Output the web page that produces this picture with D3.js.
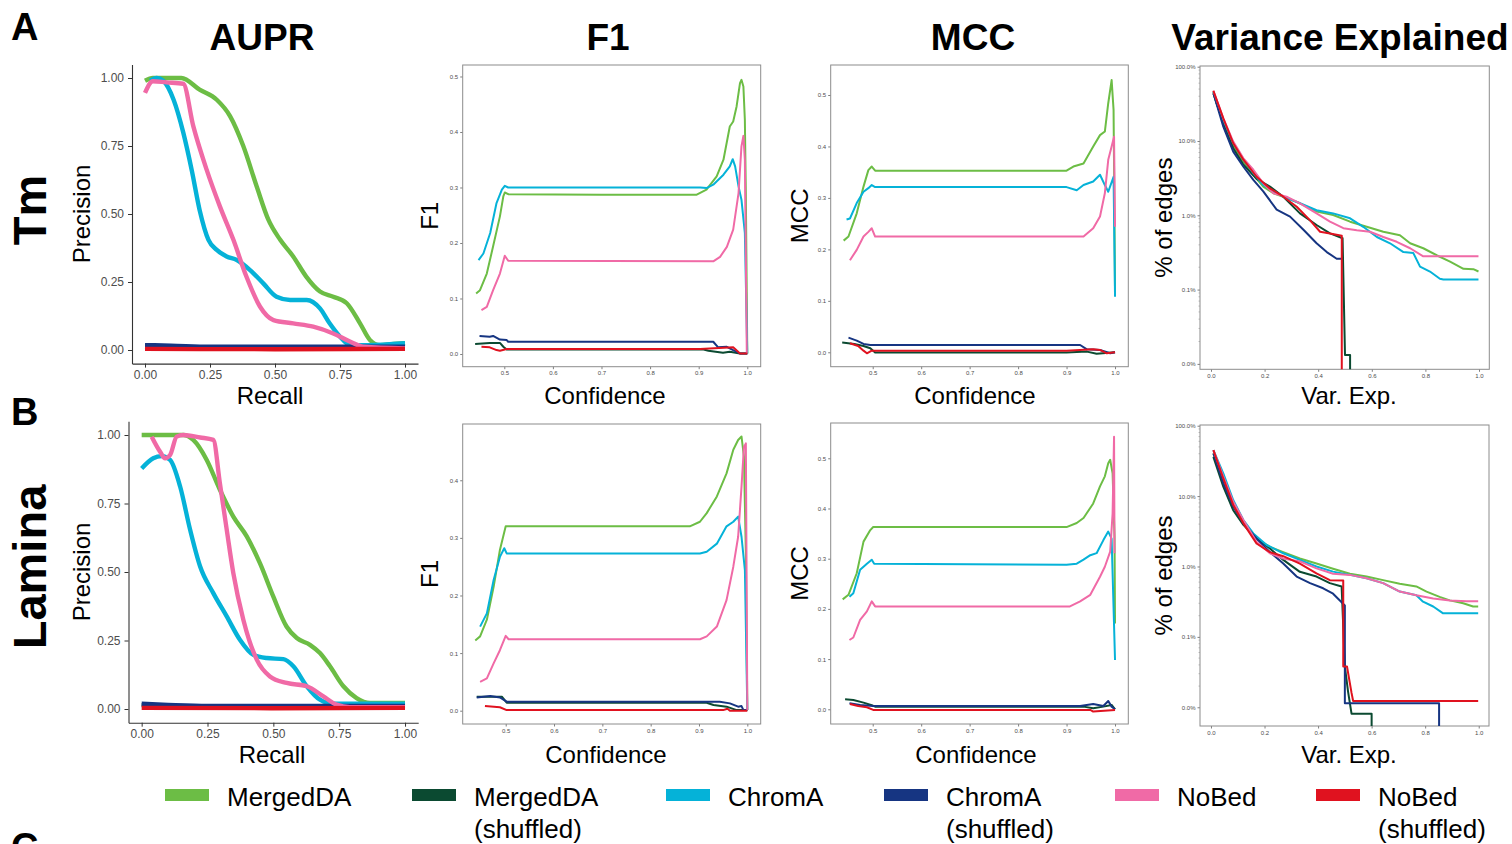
<!DOCTYPE html>
<html>
<head>
<meta charset="utf-8">
<script src="https://cdn.jsdelivr.net/npm/d3@7"></script>
<style>
  body { margin: 0; background: #fff; }
  text { font-family: "Liberation Sans", Arial, sans-serif; }
</style>
</head>
<body>
<script>
const width = 1512;
const height = 844;

// series order = legend order = draw order
const seriesNames = ["MergedDA", "MergedDA\n(shuffled)", "ChromA", "ChromA\n(shuffled)", "NoBed", "NoBed\n(shuffled)"];
const seriesKeys = ["mergedDA", "mergedDAShuf", "chromA", "chromAShuf", "noBed", "noBedShuf"];
const seriesColors = ["#6cbd45", "#0b4a31", "#05b2d8", "#163582", "#f06aa6", "#e0121f"];

const columnTitles = ["AUPR", "F1", "MCC", "Variance Explained"];
const rowNames = ["Tm", "Lamina"];
const panelLetters = ["A", "B", "C"];

const auprTicks = [0, 0.25, 0.5, 0.75, 1];
const confTicks = [0.5, 0.6, 0.7, 0.8, 0.9, 1.0];
const f1TicksTm = [0, 0.1, 0.2, 0.3, 0.4, 0.5];
const f1TicksLamina = [0, 0.1, 0.2, 0.3, 0.4];
const mccTicks = [0, 0.1, 0.2, 0.3, 0.4, 0.5];
const varXTicks = [0, 0.2, 0.4, 0.6, 0.8, 1.0];
const varYTicks = [100, 10, 1, 0.1, 0.01];

// ---- AUPR (recall, precision) ----
const auprTm = {
  mergedDA: [[0,0.99],[0.03,1.0],[0.14,1.0],[0.21,0.957],[0.276,0.92],[0.327,0.86],[0.378,0.75],[0.43,0.60],[0.474,0.48],[0.52,0.405],[0.57,0.344],[0.62,0.27],[0.673,0.215],[0.724,0.196],[0.776,0.172],[0.827,0.098],[0.865,0.037],[0.904,0.018],[0.955,0.022],[1,0.025]],
  mergedDAShuf: [[0,0.012],[0.2,0.01],[0.5,0.01],[1,0.011]],
  chromA: [[0.02,0.99],[0.045,1.0],[0.07,0.99],[0.11,0.92],[0.147,0.80],[0.18,0.66],[0.21,0.515],[0.244,0.405],[0.276,0.368],[0.314,0.344],[0.353,0.331],[0.404,0.294],[0.455,0.245],[0.506,0.196],[0.558,0.184],[0.622,0.184],[0.673,0.153],[0.71,0.098],[0.75,0.049],[0.788,0.018],[0.853,0.018],[1,0.025]],
  chromAShuf: [[0,0.018],[0.1,0.016],[0.25,0.012],[0.5,0.012],[1,0.012]],
  noBed: [[0,0.945],[0.03,0.988],[0.083,0.984],[0.147,0.979],[0.186,0.822],[0.237,0.663],[0.288,0.528],[0.34,0.405],[0.39,0.27],[0.442,0.16],[0.494,0.11],[0.57,0.098],[0.647,0.086],[0.724,0.061],[0.788,0.031],[0.84,0.012],[1,0.006]],
  noBedShuf: [[0,0.004],[0.5,0.003],[1,0.004]]
};
const auprLamina = {
  mergedDA: [[0,1.0],[0.158,1.0],[0.196,0.982],[0.247,0.909],[0.297,0.80],[0.348,0.702],[0.399,0.63],[0.449,0.532],[0.5,0.41],[0.55,0.301],[0.589,0.259],[0.639,0.234],[0.677,0.204],[0.715,0.156],[0.766,0.083],[0.816,0.04],[0.867,0.022],[1,0.022]],
  mergedDAShuf: [[0,0.014],[0.2,0.01],[0.5,0.009],[1,0.01]],
  chromA: [[0,0.878],[0.044,0.915],[0.076,0.923],[0.108,0.909],[0.146,0.812],[0.184,0.654],[0.222,0.52],[0.272,0.423],[0.323,0.338],[0.373,0.253],[0.424,0.198],[0.475,0.186],[0.538,0.182],[0.576,0.156],[0.627,0.083],[0.677,0.034],[0.728,0.019],[1,0.019]],
  chromAShuf: [[0,0.019],[0.1,0.015],[0.25,0.011],[0.5,0.011],[1,0.011]],
  noBed: [[0.038,0.994],[0.07,0.939],[0.089,0.915],[0.108,0.927],[0.133,0.994],[0.158,1.0],[0.222,0.991],[0.272,0.982],[0.297,0.824],[0.323,0.654],[0.348,0.496],[0.386,0.326],[0.437,0.18],[0.487,0.119],[0.551,0.095],[0.627,0.083],[0.69,0.046],[0.74,0.016],[0.79,0.007],[1,0.007]],
  noBedShuf: [[0,0.004],[0.5,0.003],[1,0.004]]
};

// ---- F1 (confidence, F1) ----
const f1Tm = {
  mergedDA: [[0.442,0.109],[0.45,0.115],[0.464,0.145],[0.477,0.194],[0.491,0.248],[0.498,0.284],[0.501,0.291],[0.508,0.288],[0.7,0.287],[0.896,0.287],[0.916,0.296],[0.937,0.32],[0.951,0.35],[0.964,0.41],[0.971,0.419],[0.978,0.446],[0.985,0.488],[0.988,0.494],[0.992,0.482],[0.995,0.422],[0.997,0.29],[1.0,0.001]],
  mergedDAShuf: [[0.44,0.018],[0.47,0.020],[0.491,0.020],[0.498,0.013],[0.505,0.008],[0.91,0.008],[0.92,0.006],[0.95,0.0024],[0.964,0.004],[0.985,0.001],[1.0,0.001]],
  chromA: [[0.447,0.169],[0.457,0.181],[0.471,0.218],[0.484,0.272],[0.495,0.296],[0.501,0.303],[0.508,0.300],[0.903,0.300],[0.916,0.299],[0.93,0.305],[0.951,0.323],[0.964,0.338],[0.97,0.351],[0.975,0.338],[0.982,0.302],[0.988,0.278],[0.995,0.218],[1.0,0.001]],
  chromAShuf: [[0.449,0.0325],[0.47,0.031],[0.477,0.0325],[0.491,0.026],[0.505,0.025],[0.508,0.022],[0.93,0.022],[0.94,0.012],[0.958,0.013],[0.971,0.007],[0.985,0.001],[1.0,0.001]],
  noBed: [[0.453,0.079],[0.464,0.085],[0.477,0.115],[0.491,0.145],[0.501,0.177],[0.508,0.168],[0.93,0.167],[0.944,0.175],[0.958,0.193],[0.971,0.224],[0.982,0.29],[0.988,0.374],[0.992,0.393],[0.995,0.35],[0.999,0.001]],
  noBedShuf: [[0.453,0.013],[0.47,0.012],[0.484,0.007],[0.491,0.006],[0.505,0.009],[0.903,0.009],[0.971,0.012],[0.985,0.001],[1.0,0.001]]
};
const f1Lamina = {
  mergedDA: [[0.437,0.122],[0.447,0.129],[0.461,0.158],[0.475,0.215],[0.488,0.279],[0.5,0.32],[0.509,0.32],[0.881,0.32],[0.902,0.328],[0.916,0.343],[0.937,0.372],[0.957,0.412],[0.971,0.453],[0.981,0.47],[0.988,0.476],[0.993,0.441],[0.997,0.273],[1.0,0.001]],
  mergedDAShuf: [[0.44,0.0243],[0.468,0.0243],[0.492,0.0243],[0.502,0.0139],[0.916,0.0139],[0.93,0.0098],[0.957,0.007],[0.978,0.001],[1.0,0.001]],
  chromA: [[0.447,0.146],[0.461,0.169],[0.475,0.227],[0.488,0.267],[0.497,0.282],[0.502,0.273],[0.902,0.273],[0.916,0.276],[0.937,0.29],[0.957,0.32],[0.971,0.328],[0.981,0.337],[0.988,0.302],[0.995,0.244],[1.0,0.001]],
  chromAShuf: [[0.44,0.023],[0.468,0.0255],[0.488,0.023],[0.502,0.0156],[0.943,0.0156],[0.964,0.0127],[0.981,0.007],[0.988,0.008],[0.992,0.001],[1.0,0.001]],
  noBed: [[0.447,0.05],[0.461,0.056],[0.475,0.082],[0.488,0.105],[0.5,0.13],[0.506,0.124],[0.902,0.124],[0.916,0.129],[0.937,0.146],[0.957,0.192],[0.971,0.25],[0.981,0.302],[0.988,0.389],[0.993,0.458],[0.997,0.464],[1.0,0.001]],
  noBedShuf: [[0.457,0.008],[0.488,0.006],[0.502,0.001],[0.95,0.001],[0.959,0.0035],[0.964,0.0],[1.0,0.0]]
};

// ---- MCC (confidence, MCC) ----
const mccTm = {
  mergedDA: [[0.44,0.217],[0.45,0.225],[0.467,0.27],[0.481,0.322],[0.491,0.354],[0.498,0.361],[0.505,0.353],[0.9,0.353],[0.914,0.361],[0.935,0.367],[0.955,0.4],[0.969,0.422],[0.979,0.429],[0.986,0.484],[0.993,0.529],[0.997,0.471],[0.999,0.244],[1.0,0.115]],
  mergedDAShuf: [[0.437,0.0188],[0.462,0.0162],[0.481,0.0123],[0.495,0.0078],[0.505,-0.0006],[0.9,-0.0006],[0.942,0.0013],[0.962,-0.003],[1.0,0]],
  chromA: [[0.446,0.258],[0.453,0.26],[0.467,0.29],[0.481,0.312],[0.491,0.319],[0.498,0.325],[0.505,0.321],[0.9,0.321],[0.921,0.315],[0.935,0.325],[0.955,0.332],[0.969,0.345],[0.979,0.325],[0.986,0.312],[0.997,0.341],[1.0,0.108]],
  chromAShuf: [[0.45,0.0285],[0.467,0.0227],[0.481,0.0162],[0.495,0.0142],[0.505,0.0142],[0.928,0.0142],[0.942,0.0058],[0.969,0.0045],[0.99,-0.002],[1.0,0]],
  noBed: [[0.453,0.179],[0.467,0.199],[0.481,0.225],[0.491,0.234],[0.498,0.241],[0.505,0.225],[0.935,0.225],[0.955,0.241],[0.969,0.264],[0.979,0.309],[0.986,0.374],[0.993,0.4],[0.998,0.419],[1.0,0.244]],
  noBedShuf: [[0.453,0.0175],[0.47,0.0123],[0.481,0.0032],[0.488,-0.002],[0.498,0.0032],[0.9,0.0032],[0.955,0.0058],[0.969,0.0045],[0.983,-0.002],[1.0,0]]
};
const mccLamina = {
  mergedDA: [[0.438,0.219],[0.45,0.228],[0.467,0.271],[0.481,0.334],[0.495,0.357],[0.501,0.363],[0.9,0.363],[0.921,0.371],[0.935,0.381],[0.955,0.41],[0.969,0.444],[0.979,0.464],[0.986,0.49],[0.99,0.497],[0.995,0.47],[0.999,0.344],[1.0,0.171]],
  mergedDAShuf: [[0.443,0.02],[0.46,0.0186],[0.481,0.0133],[0.498,0.008],[0.505,0.0053],[0.935,0.0053],[0.955,0.002],[0.976,0.0053],[0.993,0.0086],[1.0,0]],
  chromA: [[0.452,0.224],[0.46,0.231],[0.474,0.278],[0.488,0.29],[0.498,0.298],[0.503,0.29],[0.9,0.288],[0.921,0.29],[0.935,0.298],[0.949,0.307],[0.962,0.311],[0.976,0.337],[0.986,0.354],[0.993,0.34],[1.0,0.098]],
  chromAShuf: [[0.452,0.012],[0.474,0.0086],[0.501,0.0066],[0.928,0.0066],[0.955,0.0106],[0.976,0.0066],[0.986,0.0166],[0.993,0.0053],[1.0,0]],
  noBed: [[0.452,0.138],[0.46,0.143],[0.474,0.178],[0.488,0.195],[0.498,0.215],[0.505,0.205],[0.907,0.205],[0.928,0.215],[0.949,0.228],[0.969,0.264],[0.979,0.284],[0.99,0.314],[0.995,0.39],[0.998,0.543],[0.999,0.311]],
  noBedShuf: [[0.453,0.0106],[0.47,0.0066],[0.488,0.004],[0.501,-0.0013],[0.949,-0.0013],[0.955,-0.0046],[1.0,-0.0013]]
};

// ---- Variance explained (var. exp., % of edges) ----
const varTm = {
  mergedDA: [[0.009,46],[0.021,32],[0.046,18.2],[0.083,8.8],[0.121,5.27],[0.158,3.49],[0.195,2.43],[0.233,1.98],[0.27,1.78],[0.332,1.45],[0.394,1.12],[0.456,1.01],[0.519,0.82],[0.581,0.70],[0.643,0.60],[0.705,0.54],[0.743,0.42],[0.792,0.36],[0.842,0.29],[0.892,0.238],[0.942,0.19],[0.979,0.188],[0.998,0.175]],
  mergedDAShuf: [[0.009,43.8],[0.046,17.3],[0.083,8],[0.121,4.8],[0.17,3.1],[0.22,2.43],[0.27,1.78],[0.332,1.06],[0.394,0.74],[0.444,0.57],[0.491,0.49],[0.5,0.0132],[0.519,0.0132],[0.519,0.00001]],
  chromA: [[0.009,46],[0.046,19.2],[0.083,9.3],[0.121,5.6],[0.158,3.7],[0.195,2.56],[0.233,2.1],[0.27,1.78],[0.332,1.45],[0.394,1.17],[0.456,1.06],[0.519,0.91],[0.568,0.70],[0.619,0.51],[0.668,0.42],[0.718,0.32],[0.755,0.31],[0.78,0.204],[0.817,0.175],[0.854,0.14],[0.867,0.137],[0.998,0.137]],
  chromAShuf: [[0.009,43.8],[0.046,15.6],[0.083,7.2],[0.121,4.5],[0.158,3.0],[0.195,2.1],[0.245,1.19],[0.295,0.96],[0.345,0.64],[0.394,0.42],[0.432,0.32],[0.469,0.26],[0.488,0.26]],
  noBed: [[0.009,47.5],[0.046,20.2],[0.083,9.8],[0.121,5.85],[0.158,4.1],[0.195,2.7],[0.233,1.98],[0.282,1.78],[0.332,1.45],[0.394,1.06],[0.444,0.82],[0.494,0.67],[0.544,0.63],[0.593,0.60],[0.643,0.51],[0.693,0.44],[0.743,0.36],[0.792,0.28],[0.998,0.28]],
  noBedShuf: [[0.009,47.5],[0.046,20.2],[0.083,9.3],[0.121,5.6],[0.17,3.3],[0.22,2.3],[0.27,1.78],[0.32,1.3],[0.369,0.86],[0.407,0.60],[0.444,0.57],[0.488,0.53],[0.488,0.00001]]
};
const varLamina = {
  mergedDA: [[0.009,40.5],[0.046,16.9],[0.083,7.9],[0.121,4.3],[0.17,2.5],[0.22,1.9],[0.27,1.6],[0.332,1.3],[0.394,1.1],[0.456,0.93],[0.519,0.79],[0.581,0.72],[0.643,0.64],[0.705,0.57],[0.767,0.52],[0.805,0.44],[0.854,0.37],[0.892,0.33],[0.942,0.30],[0.979,0.27],[0.998,0.27]],
  mergedDAShuf: [[0.009,36],[0.046,13.6],[0.083,6.3],[0.121,3.9],[0.17,2.5],[0.22,1.8],[0.27,1.24],[0.332,0.84],[0.394,0.72],[0.444,0.58],[0.488,0.52],[0.5,0.038],[0.512,0.0167],[0.525,0.0081],[0.6,0.0081],[0.6,0.00001]],
  chromA: [[0.009,45],[0.046,21],[0.083,8.8],[0.121,4.57],[0.158,2.95],[0.208,2.02],[0.27,1.54],[0.332,1.24],[0.394,1.0],[0.456,0.845],[0.519,0.76],[0.581,0.68],[0.643,0.58],[0.705,0.44],[0.767,0.39],[0.792,0.316],[0.83,0.27],[0.867,0.216],[0.998,0.216]],
  chromAShuf: [[0.009,40.5],[0.046,15.2],[0.083,7.1],[0.121,4.1],[0.17,2.5],[0.22,1.6],[0.27,1.1],[0.32,0.72],[0.37,0.58],[0.419,0.49],[0.456,0.41],[0.488,0.31],[0.5,0.28],[0.5,0.0114],[0.852,0.0114],[0.852,0.00001]],
  noBed: [[0.009,45],[0.046,18.9],[0.083,8.3],[0.121,4.57],[0.17,2.25],[0.22,1.54],[0.27,1.3],[0.332,1.18],[0.394,0.94],[0.456,0.79],[0.519,0.76],[0.581,0.68],[0.643,0.58],[0.705,0.44],[0.767,0.39],[0.83,0.35],[0.892,0.33],[0.954,0.32],[0.998,0.32]],
  noBedShuf: [[0.009,45],[0.046,17.8],[0.083,7.5],[0.121,4.1],[0.17,2.12],[0.22,1.6],[0.27,1.4],[0.332,1.1],[0.394,0.8],[0.444,0.64],[0.494,0.63],[0.494,0.038],[0.508,0.038],[0.525,0.016],[0.531,0.0123],[0.998,0.0123]]
};

// panel layout: pixel boxes and axis domains
const panels = [
  {id: "auprTm", kind: "aupr", data: auprTm, xr: [132, 418], yr: [363.6, 64.4], xd: [-0.05, 1.05], yd: [-0.05, 1.05], xt: auprTicks, yt: auprTicks, xlab: "Recall", ylab: "Precision", xlabX: 270, xlabY: 404, ylabX: 90},
  {id: "f1Tm", kind: "box", data: f1Tm, xr: [462.7, 760.7], yr: [366.7, 65], xd: [0.4144, 1.0276], yd: [-0.0229, 0.5207], xt: confTicks, yt: f1TicksTm, xlab: "Confidence", ylab: "F1", xlabX: 605, xlabY: 404, ylabX: 438},
  {id: "mccTm", kind: "box", data: mccTm, xr: [830.7, 1128.3], yr: [366.7, 65], xd: [0.4133, 1.0274], yd: [-0.028, 0.5583], xt: confTicks, yt: mccTicks, xlab: "Confidence", ylab: "MCC", xlabX: 975, xlabY: 404, ylabX: 808},
  {id: "varTm", kind: "log", data: varTm, xr: [1200, 1489.3], yr: [369.3, 66], xd: [-0.041, 1.0384], yd: [Math.pow(10, -2.073), Math.pow(10, 2.0094)], xt: varXTicks, yt: varYTicks, xlab: "Var. Exp.", ylab: "% of edges", xlabX: 1349, xlabY: 404, ylabX: 1172},
  {id: "auprLamina", kind: "aupr", data: auprLamina, xr: [128.5, 418.2], yr: [722.7, 421.3], xd: [-0.05, 1.05], yd: [-0.05, 1.05], xt: auprTicks, yt: auprTicks, xlab: "Recall", ylab: "Precision", xlabX: 272, xlabY: 763, ylabX: 90},
  {id: "f1Lamina", kind: "box", data: f1Lamina, xr: [462.7, 760.7], yr: [724, 424], xd: [0.411, 1.0277], yd: [-0.0231, 0.4977], xt: confTicks, yt: f1TicksLamina, xlab: "Confidence", ylab: "F1", xlabX: 606, xlabY: 763, ylabX: 438},
  {id: "mccLamina", kind: "box", data: mccLamina, xr: [830.7, 1128.3], yr: [724, 423], xd: [0.4133, 1.0274], yd: [-0.0293, 0.5703], xt: confTicks, yt: mccTicks, xlab: "Confidence", ylab: "MCC", xlabX: 976, xlabY: 763, ylabX: 808},
  {id: "varLamina", kind: "log", data: varLamina, xr: [1200, 1489], yr: [726, 425], xd: [-0.041, 1.0384], yd: [Math.pow(10, -2.266), Math.pow(10, 2.01)], xt: varXTicks, yt: varYTicks, xlab: "Var. Exp.", ylab: "% of edges", xlabX: 1349, xlabY: 763, ylabX: 1172}
];

const svg = d3.select("body").append("svg")
    .attr("width", width)
    .attr("height", height);

svg.append("rect").attr("width", width).attr("height", height).attr("fill", "#fff");

const defs = svg.append("defs");

function drawPanel(p) {
  const x = d3.scaleLinear().domain(p.xd).range(p.xr);
  const y = (p.kind === "log" ? d3.scaleLog() : d3.scaleLinear()).domain(p.yd).range(p.yr);
  const g = svg.append("g").attr("class", "panel " + p.id);

  defs.append("clipPath").attr("id", "clip-" + p.id)
    .append("rect")
    .attr("x", p.xr[0]).attr("y", p.yr[1])
    .attr("width", p.xr[1] - p.xr[0]).attr("height", p.yr[0] - p.yr[1]);

  const small = p.kind !== "aupr";
  const tickFont = small ? 6 : 12;
  const tickLen = small ? 2.5 : 4;

  let xFmt = small ? d3.format(".1f") : d3.format(".2f");
  let yFmt = small ? d3.format(".1f") : d3.format(".2f");
  if (p.kind === "log") yFmt = d => d3.format(".1f")(d) + "%";

  const xAxis = d3.axisBottom(x).tickValues(p.xt).tickFormat(xFmt)
      .tickSize(tickLen).tickSizeOuter(0).tickPadding(small ? 2 : 3);
  const yAxis = d3.axisLeft(y).tickValues(p.yt).tickFormat(yFmt)
      .tickSize(tickLen).tickSizeOuter(0).tickPadding(small ? 2 : 4);

  const gx = g.append("g").attr("transform", "translate(0," + p.yr[0] + ")").call(xAxis);
  const gy = g.append("g").attr("transform", "translate(" + p.xr[0] + ",0)").call(yAxis);

  [gx, gy].forEach(a => {
    a.selectAll("text").attr("font-size", tickFont).attr("fill", "#4d4d4d")
      .attr("font-family", "Liberation Sans, Arial, sans-serif");
    a.selectAll(".tick line").attr("stroke", small ? "#7f7f7f" : "#333");
    a.select(".domain").attr("stroke", small ? "none" : "#333").attr("stroke-width", 1.1);
  });

  if (p.kind === "log") {
    // minor log ticks
    const minor = [];
    varYTicks.slice(1).forEach(dec => {
      for (let m = 2; m <= 9; m++) minor.push(dec * m);
    });
    gy.selectAll(".minor").data(minor.filter(v => v >= p.yd[0] && v <= p.yd[1]))
      .enter().append("line")
      .attr("class", "minor")
      .attr("x1", -1.5).attr("x2", 0)
      .attr("y1", d => y(d)).attr("y2", d => y(d))
      .attr("stroke", "#999").attr("stroke-width", 0.6);
  }

  if (small) {
    g.append("rect")
      .attr("x", p.xr[0]).attr("y", p.yr[1])
      .attr("width", p.xr[1] - p.xr[0]).attr("height", p.yr[0] - p.yr[1])
      .attr("fill", "none").attr("stroke", "#8c8c8c").attr("stroke-width", 1);
  }

  const line = d3.line()
    .x(d => x(d[0]))
    .y(d => y(d[1]))
    .curve(p.kind === "aupr" ? d3.curveMonotoneX : d3.curveLinear);

  const lines = g.append("g").attr("clip-path", "url(#clip-" + p.id + ")");
  seriesKeys.forEach((k, i) => {
    lines.append("path")
      .datum(p.data[k])
      .attr("d", line)
      .attr("fill", "none")
      .attr("stroke", seriesColors[i])
      .attr("stroke-width", p.kind === "aupr" ? 4.4 : 2)
      .attr("stroke-linejoin", "round");
  });

  // axis titles
  svg.append("text")
    .attr("x", p.xlabX)
    .attr("y", p.xlabY)
    .attr("text-anchor", "middle")
    .attr("font-size", 24)
    .attr("fill", "#000")
    .text(p.xlab);

  const cy = (p.yr[0] + p.yr[1]) / 2;
  svg.append("text")
    .attr("transform", "translate(" + p.ylabX + "," + cy + ")rotate(-90)")
    .attr("text-anchor", "middle")
    .attr("font-size", 24)
    .attr("fill", "#000")
    .text(p.ylab);
}

panels.forEach(drawPanel);

// column titles
const titleX = [262, 608, 973, 1340];
svg.selectAll(".coltitle").data(columnTitles).enter().append("text")
  .attr("class", "coltitle")
  .attr("x", (d, i) => titleX[i])
  .attr("y", 50)
  .attr("text-anchor", "middle")
  .attr("font-size", 37)
  .attr("font-weight", "bold")
  .text(d => d);

// row labels
const rowY = [210, 567];
svg.selectAll(".rowlab").data(rowNames).enter().append("text")
  .attr("class", "rowlab")
  .attr("transform", (d, i) => "translate(46," + rowY[i] + ")rotate(-90)")
  .attr("text-anchor", "middle")
  .attr("font-size", 47)
  .attr("font-weight", "bold")
  .text(d => d);

// panel letters ("C" is cropped at the bottom edge, as in the source figure)
const letterY = [40, 425, 860];
svg.selectAll(".letter").data(panelLetters).enter().append("text")
  .attr("class", "letter")
  .attr("x", 11)
  .attr("y", (d, i) => letterY[i])
  .attr("font-size", 38)
  .attr("font-weight", "bold")
  .text(d => d);

// legend
const legendX = [165, 412, 666, 884, 1115, 1316];
const legend = svg.append("g").attr("class", "legend");
seriesNames.forEach((name, i) => {
  legend.append("rect")
    .attr("x", legendX[i]).attr("y", 789)
    .attr("width", 44).attr("height", 12)
    .attr("fill", seriesColors[i]);
  const t = legend.append("text")
    .attr("x", legendX[i] + 62).attr("y", 806)
    .attr("font-size", 26)
    .attr("fill", "#000");
  name.split("\n").forEach((ln, j) => {
    t.append("tspan").attr("x", legendX[i] + 62).attr("dy", j === 0 ? 0 : 32).text(ln);
  });
});
</script>
</body>
</html>
